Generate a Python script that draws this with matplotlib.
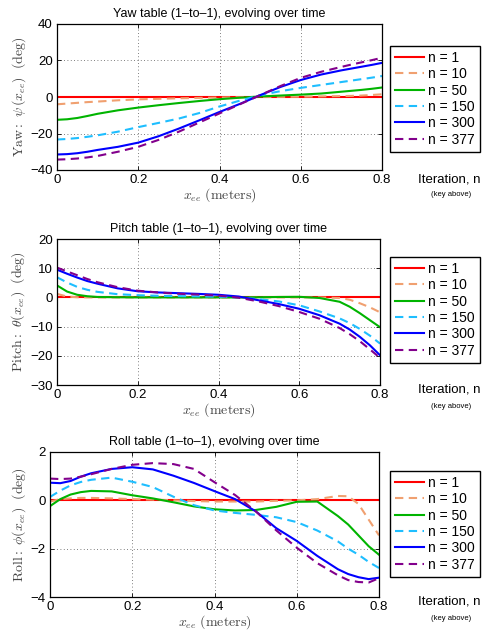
import matplotlib
matplotlib.use("Agg")
import matplotlib.pyplot as plt

plt.rcParams['font.family'] = ['Liberation Sans', 'DejaVu Sans']
plt.rcParams['mathtext.fontset'] = 'cm'

x = [0, 0.025, 0.05, 0.075, 0.1, 0.15, 0.2, 0.25, 0.3, 0.35, 0.4, 0.45,
     0.5, 0.55, 0.6, 0.65, 0.7, 0.725, 0.75, 0.775, 0.8]

labels = ['n = 1', 'n = 10', 'n = 50', 'n = 150', 'n = 300', 'n = 377']

# Yaw (deg)
yaw_n1 = [0] * 21
yaw_n10 = [-4, -3.6, -3.2, -2.8, -2.5, -1.8, -1.3, -1, -0.7, -0.5, -0.3, -0.15,
           0, 0.1, 0.2, 0.35, 0.5, 0.6, 0.8, 1.1, 1.5]
yaw_n50 = [-12.5, -12.2, -11.5, -10.4, -9.2, -7.3, -5.8, -4.5, -3.3, -2.2, -1.2, -0.4,
           0.3, 0.8, 1.3, 1.9, 2.9, 3.4, 3.9, 4.5, 5.2]
yaw_n150 = [-23.3, -23, -22.5, -21.8, -21, -19, -16.5, -14.2, -11.8, -8.8, -5.2, -2,
            1, 3.2, 5, 6.6, 8.2, 9, 9.8, 10.6, 11.5]
yaw_n300 = [-31.5, -31.3, -30.8, -30, -29, -27.3, -25, -21.5, -17.3, -12.8, -8.2, -3.8,
            1, 5.5, 9.3, 12.3, 14.6, 15.6, 16.6, 17.6, 18.7]
yaw_n377 = [-34.3, -34.1, -33.7, -33.1, -32.3, -30, -27.3, -23.5, -19, -14, -9, -4,
            1, 6, 10.5, 13.8, 16.5, 17.8, 19, 20.2, 21.5]

# Pitch (deg)
pitch_n1 = [0] * 21
pitch_n10 = [1.2, 0.3, 0.05, 0, 0, 0, 0, 0, 0, 0, 0, 0,
             0, 0, 0, 0, -0.2, -0.8, -2.0, -3.4, -5.1]
pitch_n50 = [4.1, 2.0, 0.9, 0.4, 0.15, 0.05, 0, 0, 0, 0, 0, 0,
             0.05, 0.15, 0.2, -0.2, -1.5, -3.2, -5.4, -7.8, -10.2]
pitch_n150 = [6.9, 5.1, 3.6, 2.6, 1.9, 1.1, 0.75, 0.55, 0.45, 0.35, 0.25, 0.0,
              -0.6, -1.4, -2.7, -4.8, -7.2, -8.8, -10.8, -13.1, -15.8]
pitch_n300 = [9.5, 8.1, 6.8, 5.6, 4.7, 3.1, 2.1, 1.7, 1.45, 1.2, 0.9, 0.3,
              -1.0, -2.3, -3.9, -6.1, -9.0, -11.0, -13.5, -16.4, -19.8]
pitch_n377 = [10.2, 8.9, 7.6, 6.3, 5.2, 3.5, 2.3, 1.7, 1.25, 0.95, 0.6, -0.1,
              -1.4, -3.0, -5.0, -7.3, -10.5, -12.6, -15.0, -17.8, -20.7]

# Roll (deg)
roll_n1 = [0] * 21
roll_n10 = [-0.05, 0.05, 0.08, 0.1, 0.1, 0.08, 0.05, 0.03, 0.0, -0.03, -0.05, -0.05,
            -0.05, -0.02, 0.0, 0.05, 0.18, 0.17, -0.15, -0.8, -1.45]
roll_n50 = [-0.24, 0.05, 0.24, 0.34, 0.39, 0.37, 0.21, 0.08, -0.08, -0.25, -0.37, -0.42,
            -0.4, -0.27, -0.06, -0.05, -0.65, -1.0, -1.45, -1.9, -2.25]
roll_n150 = [0.14, 0.4, 0.62, 0.76, 0.85, 0.94, 0.77, 0.55, 0.15, -0.2, -0.42, -0.52,
             -0.6, -0.7, -0.9, -1.25, -1.7, -2.0, -2.25, -2.55, -2.8]
roll_n300 = [0.73, 0.71, 0.8, 0.98, 1.12, 1.3, 1.37, 1.28, 1.02, 0.72, 0.38, 0.05,
             -0.45, -1.15, -1.68, -2.3, -2.85, -3.05, -3.18, -3.26, -3.2]
roll_n377 = [0.9, 0.88, 0.9, 0.98, 1.08, 1.3, 1.47, 1.54, 1.5, 1.3, 0.75, 0.22,
             -0.45, -1.24, -1.96, -2.6, -3.1, -3.3, -3.38, -3.4, -3.22]

xticks = [0, 0.2, 0.4, 0.6, 0.8]
xticklabels = ['0', '0.2', '0.4', '0.6', '0.8']

colors = ['#ff0000', '#f0a070', '#00b400', '#1ebeff', '#0000ff', '#82008c']
styles = ['-', '--', '-', '--', '-', '--']

panels = [
    dict(title='Yaw table (1\u2013to\u20131), evolving over time',
         ylabel=r'$\mathrm{Yaw:}\ \psi\,(x_{ee})\ \ \mathrm{(deg)}$',
         series=[yaw_n1, yaw_n10, yaw_n50, yaw_n150, yaw_n300, yaw_n377],
         ylim=(-40, 40), yticks=[-40, -20, 0, 20, 40],
         rect=[57, 24, 382, 170]),
    dict(title='Pitch table (1\u2013to\u20131), evolving over time',
         ylabel=r'$\mathrm{Pitch:}\ \theta(x_{ee})\ \ \mathrm{(deg)}$',
         series=[pitch_n1, pitch_n10, pitch_n50, pitch_n150, pitch_n300, pitch_n377],
         ylim=(-30, 20), yticks=[-30, -20, -10, 0, 10, 20],
         rect=[57, 239, 380, 385]),
    dict(title='Roll table (1\u2013to\u20131), evolving over time',
         ylabel=r'$\mathrm{Roll:}\ \phi(x_{ee})\ \ \mathrm{(deg)}$',
         series=[roll_n1, roll_n10, roll_n50, roll_n150, roll_n300, roll_n377],
         ylim=(-4, 2), yticks=[-4, -2, 0, 2],
         rect=[50, 452, 379, 597]),
]

W, H = 482, 636
fig = plt.figure(figsize=(W / 100, H / 100), dpi=100)

legend_tops = [46, 257, 471]
iter_y = [180, 390, 602]
key_y = [195, 407, 619]

for i, p in enumerate(panels):
    l, t, r, b = p['rect']
    ax = fig.add_axes([l / W, 1 - b / H, (r - l) / W, (b - t) / H])
    for ys, c, ls, lab in zip(p['series'], colors, styles, labels):
        ax.plot(x, ys, color=c, linestyle=ls, linewidth=1.5, label=lab,
                dashes=(4, 2.6) if ls == '--' else (None, None))
    ax.set_xlim(0, 0.8)
    ax.set_ylim(*p['ylim'])
    ax.set_xticks(xticks)
    ax.set_xticklabels(xticklabels)
    ax.set_yticks(p['yticks'])
    ax.tick_params(direction='in', length=3, width=0.6, top=True, right=True,
                   labelsize=9.5, pad=3)
    ax.grid(True, linestyle=(0, (1, 3)), color='#555555', linewidth=0.6)
    for s in ax.spines.values():
        s.set_linewidth(0.9)
    ax.set_title(p['title'], fontsize=9, pad=5)
    ax.set_ylabel(p['ylabel'], fontsize=10, color='#444444', labelpad=2)
    ax.set_xlabel(r'$x_{ee}\ (\mathrm{meters})$', fontsize=10, color='#444444', labelpad=0)
    leg = ax.legend(loc='upper left', bbox_to_anchor=(390 / W, 1 - legend_tops[i] / H),
                    bbox_transform=fig.transFigure, borderaxespad=0, fontsize=10,
                    handlelength=2.1, handletextpad=0.3, labelspacing=0.17,
                    borderpad=0.35, fancybox=False, framealpha=1, edgecolor='black')
    leg.get_frame().set_linewidth(1.0)
    fig.text(418 / W, 1 - iter_y[i] / H, 'Iteration, n', fontsize=9.5,
             ha='left', va='center')
    fig.text(451 / W, 1 - key_y[i] / H, '(key above)', fontsize=5.5,
             ha='center', va='center')

fig.savefig('out.png', dpi=100)
